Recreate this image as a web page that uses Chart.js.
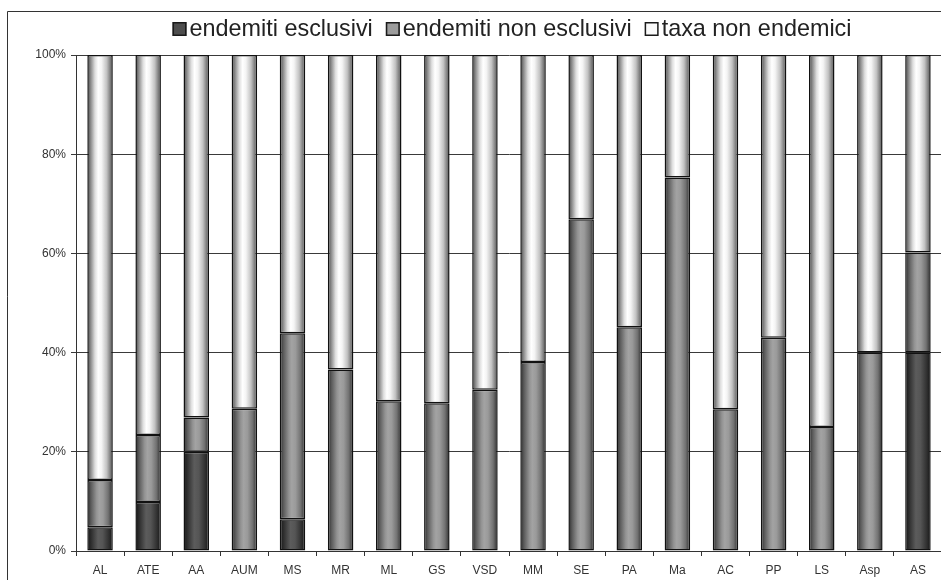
<!DOCTYPE html>
<html>
<head>
<meta charset="utf-8">
<title>Endemiti per unità</title>
<script src="https://cdn.jsdelivr.net/npm/chart.js@4/dist/chart.umd.min.js"></script>
<style>
  html, body { margin: 0; padding: 0; background: #fff; overflow: hidden; }
  #wrap { position: absolute; left: 0; top: 0; width: 950px; height: 580px; }
</style>
</head>
<body>
<div id="wrap"><canvas id="chart" width="950" height="580"></canvas></div>
<script>
// Categories (units) along the x axis
const categories = ['AL', 'ATE', 'AA', 'AUM', 'MS', 'MR', 'ML', 'GS', 'VSD', 'MM', 'SE', 'PA', 'Ma', 'AC', 'PP', 'LS', 'Asp', 'AS'];

// Percentage shares per unit
const endemitiEsclusivi    = [4.8, 9.9, 20.0, 0, 6.4, 0, 0, 0, 0, 0, 0, 0, 0, 0, 0, 0, 0, 40.0];
const endemitiNonEsclusivi = [9.5, 13.5, 6.9, 28.7, 37.5, 36.6, 30.2, 29.8, 32.5, 38.1, 66.9, 45.1, 75.3, 28.6, 43.0, 25.0, 40.0, 20.2];
const taxaNonEndemici      = [85.7, 76.6, 73.1, 71.3, 56.1, 63.4, 69.8, 70.2, 67.5, 61.9, 33.1, 54.9, 24.7, 71.4, 57.0, 75.0, 60.0, 39.8];

const seriesNames = ['endemiti esclusivi', 'endemiti non esclusivi', 'taxa non endemici'];

// Y axis tick values
const yTicks = [0, 20, 40, 60, 80, 100];

// Cylinder-like horizontal shading for each series
const shades = [
  [[0, '#151515'], [0.18, '#333333'], [0.42, '#5c5c5c'], [0.6, '#555555'], [0.85, '#303030'], [1, '#151515']],
  [[0, '#2a2a2a'], [0.14, '#5a5a5a'], [0.36, '#939393'], [0.47, '#a3a3a3'], [0.62, '#9a9a9a'], [0.82, '#727272'], [0.95, '#404040'], [1, '#2a2a2a']],
  [[0, '#444444'], [0.12, '#858585'], [0.3, '#dedede'], [0.43, '#ffffff'], [0.56, '#f4f4f4'], [0.76, '#c2c2c2'], [0.92, '#767676'], [1, '#444444']]
];
const swatches = ['#4e4e4e', '#9c9c9c', '#fafafa'];
const BAR_PCT = 0.53;

function shadedFill(seriesIndex) {
  return function (ctx) {
    const chart = ctx.chart;
    const xs = chart.scales.x;
    if (!xs || !chart.chartArea || ctx.dataIndex === undefined) return swatches[seriesIndex];
    const cx = xs.getPixelForValue(ctx.dataIndex);
    const half = (xs.width / categories.length) * BAR_PCT / 2;
    const g = chart.ctx.createLinearGradient(cx - half, 0, cx + half, 0);
    shades[seriesIndex].forEach(([p, c]) => g.addColorStop(p, c));
    return g;
  };
}

const seriesData = [endemitiEsclusivi, endemitiNonEsclusivi, taxaNonEndemici];

const datasets = seriesData.map((values, i) => ({
  label: seriesNames[i],
  data: values,
  backgroundColor: shadedFill(i),
  borderColor: '#111111',
  borderWidth: 1.5,
  borderSkipped: false,
  categoryPercentage: 1,
  barPercentage: BAR_PCT
}));

// Outer frame and legend row above the plot
const framePlugin = {
  id: 'frame',
  beforeDraw(chart) {
    const c = chart.ctx;
    c.save();
    c.strokeStyle = '#333333';
    c.lineWidth = 1;
    c.beginPath();
    c.moveTo(7.5, 2000);
    c.lineTo(7.5, 11.5);
    c.lineTo(2000, 11.5);
    c.stroke();
    c.restore();
  }
};

const legendPlugin = {
  id: 'topLegend',
  afterDraw(chart) {
    const c = chart.ctx;
    const box = 14, gapText = 3, gapItem = 13, y = 29;
    c.save();
    c.font = '23.4px "Liberation Sans", Arial, sans-serif';
    c.textBaseline = 'middle';
    const widths = chart.data.datasets.map(d => box + gapText + c.measureText(d.label).width);
    const total = widths.reduce((a, b) => a + b, 0) + gapItem * (widths.length - 1);
    const area = chart.chartArea;
    let x = (area.left + area.right) / 2 - total / 2 + 3;
    chart.data.datasets.forEach((d, i) => {
      c.fillStyle = swatches[i];
      c.fillRect(x, y - box / 2, box, box);
      c.strokeStyle = '#1a1a1a';
      c.lineWidth = 1.5;
      c.strokeRect(x + 0.75, y - box / 2 + 0.75, box - 1.5, box - 1.5);
      c.fillStyle = '#222222';
      c.fillText(d.label, x + box + gapText, y + 1);
      x += widths[i] + gapItem;
    });
    c.restore();
  }
};

new Chart(document.getElementById('chart'), {
  type: 'bar',
  data: { labels: categories, datasets },
  plugins: [framePlugin, legendPlugin],
  options: {
    responsive: false,
    animation: false,
    layout: { padding: { top: 55, right: 8, bottom: 0, left: 0 } },
    plugins: {
      legend: { display: false },
      tooltip: { enabled: false }
    },
    scales: {
      x: {
        stacked: true,
        offset: true,
        grid: {
          offset: true,
          drawOnChartArea: false,
          drawTicks: true,
          tickLength: 5,
          color: '#333333'
        },
        border: { display: true, color: '#333333', width: 1 },
        ticks: {
          color: '#333333',
          padding: 7,
          maxRotation: 0,
          autoSkip: false,
          font: { family: '"Liberation Sans", Arial, sans-serif', size: 12 }
        },
        afterFit(scale) { scale.height = 29; }
      },
      y: {
        stacked: true,
        min: 0,
        max: 100,
        afterBuildTicks(scale) { scale.ticks = yTicks.map(v => ({ value: v })); },
        grid: {
          color: '#3a3a3a',
          lineWidth: 1,
          drawTicks: true,
          tickLength: 5
        },
        border: { display: true, color: '#333333', width: 1 },
        ticks: {
          color: '#333333',
          padding: 5,
          callback: v => v + '%',
          font: { family: '"Liberation Sans", Arial, sans-serif', size: 12 }
        },
        afterFit(scale) { scale.width = 76; }
      }
    }
  }
});
</script>
</body>
</html>
